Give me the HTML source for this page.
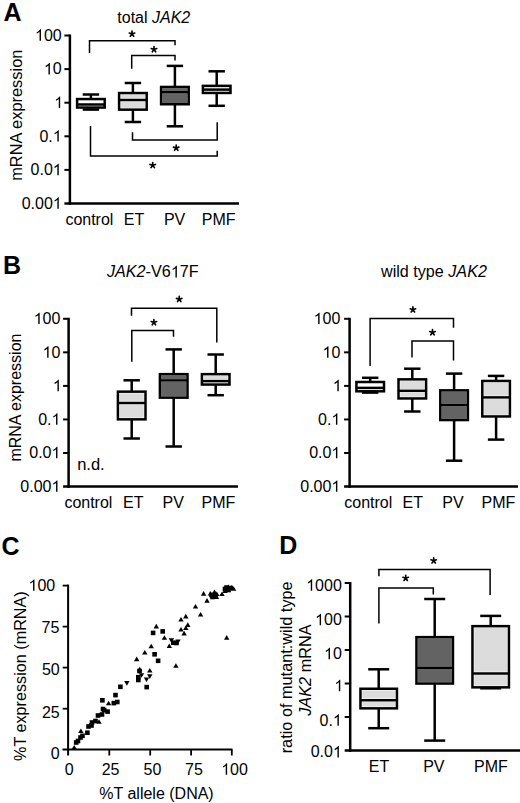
<!DOCTYPE html>
<html><head><meta charset="utf-8"><style>
html,body{margin:0;padding:0;background:#fff;}
svg{display:block;}
text{font-family:"Liberation Sans", sans-serif;fill:#000;}
</style></head><body>
<svg width="520" height="803" viewBox="0 0 520 803" font-size="16">
<rect width="520" height="803" fill="#fff"/>
<text x="3.50" y="21.00" font-size="25" font-weight="bold">A</text>
<text x="117.30" y="22.80">total <tspan font-style="italic">JAK2</tspan></text>
<line x1="69.90" y1="34.50" x2="69.90" y2="204.80" stroke="#000" stroke-width="2.5" stroke-linecap="butt"/>
<line x1="64.40" y1="35.50" x2="69.90" y2="35.50" stroke="#000" stroke-width="2.0" stroke-linecap="butt"/>
<line x1="64.40" y1="69.10" x2="69.90" y2="69.10" stroke="#000" stroke-width="2.0" stroke-linecap="butt"/>
<line x1="64.40" y1="102.70" x2="69.90" y2="102.70" stroke="#000" stroke-width="2.0" stroke-linecap="butt"/>
<line x1="64.40" y1="136.30" x2="69.90" y2="136.30" stroke="#000" stroke-width="2.0" stroke-linecap="butt"/>
<line x1="64.40" y1="169.90" x2="69.90" y2="169.90" stroke="#000" stroke-width="2.0" stroke-linecap="butt"/>
<line x1="64.40" y1="203.50" x2="239.00" y2="203.50" stroke="#000" stroke-width="2.5" stroke-linecap="butt"/>
<text x="35.01" y="40.80"> 00</text>
<path d="M763 0L583 0L583 1147C540 1106 483 1064 413 1023C343 982 280 951 223 930L223 1104C301 1141 386 1193 478 1260C570 1327 634 1396 670 1466L763 1466Z" transform="translate(35.01 40.80) scale(0.00781 -0.00781)"/>
<text x="43.91" y="74.40"> 0</text>
<path d="M763 0L583 0L583 1147C540 1106 483 1064 413 1023C343 982 280 951 223 930L223 1104C301 1141 386 1193 478 1260C570 1327 634 1396 670 1466L763 1466Z" transform="translate(43.91 74.40) scale(0.00781 -0.00781)"/>
<text x="54.20" y="108.00"> </text>
<path d="M763 0L583 0L583 1147C540 1106 483 1064 413 1023C343 982 280 951 223 930L223 1104C301 1141 386 1193 478 1260C570 1327 634 1396 670 1466L763 1466Z" transform="translate(54.20 108.00) scale(0.00781 -0.00781)"/>
<text x="39.46" y="141.60">0. </text>
<path d="M763 0L583 0L583 1147C540 1106 483 1064 413 1023C343 982 280 951 223 930L223 1104C301 1141 386 1193 478 1260C570 1327 634 1396 670 1466L763 1466Z" transform="translate(52.80 141.60) scale(0.00781 -0.00781)"/>
<text x="30.56" y="175.20">0.0 </text>
<path d="M763 0L583 0L583 1147C540 1106 483 1064 413 1023C343 982 280 951 223 930L223 1104C301 1141 386 1193 478 1260C570 1327 634 1396 670 1466L763 1466Z" transform="translate(52.80 175.20) scale(0.00781 -0.00781)"/>
<text x="21.67" y="208.80">0.00 </text>
<path d="M763 0L583 0L583 1147C540 1106 483 1064 413 1023C343 982 280 951 223 930L223 1104C301 1141 386 1193 478 1260C570 1327 634 1396 670 1466L763 1466Z" transform="translate(52.80 208.80) scale(0.00781 -0.00781)"/>
<text x="22.20" y="180.80" font-size="16.4" transform="rotate(-90 22.2 180.8)">mRNA expression</text>
<line x1="90.90" y1="94.50" x2="90.90" y2="99.05" stroke="#000" stroke-width="2.5" stroke-linecap="butt"/>
<line x1="90.90" y1="107.55" x2="90.90" y2="109.60" stroke="#000" stroke-width="2.5" stroke-linecap="butt"/>
<line x1="82.70" y1="94.50" x2="99.10" y2="94.50" stroke="#000" stroke-width="2.5" stroke-linecap="butt"/>
<line x1="82.70" y1="109.60" x2="99.10" y2="109.60" stroke="#000" stroke-width="2.5" stroke-linecap="butt"/>
<rect x="77.10" y="99.05" width="27.60" height="8.50" fill="#fff"/>
<rect x="77.10" y="99.05" width="27.60" height="8.50" fill="none" stroke="#000" stroke-width="2.5"/>
<line x1="77.10" y1="104.50" x2="104.70" y2="104.50" stroke="#000" stroke-width="2.5" stroke-linecap="butt"/>
<line x1="132.90" y1="83.00" x2="132.90" y2="93.05" stroke="#000" stroke-width="2.5" stroke-linecap="butt"/>
<line x1="132.90" y1="109.65" x2="132.90" y2="122.00" stroke="#000" stroke-width="2.5" stroke-linecap="butt"/>
<line x1="124.70" y1="83.00" x2="141.10" y2="83.00" stroke="#000" stroke-width="2.5" stroke-linecap="butt"/>
<line x1="124.70" y1="122.00" x2="141.10" y2="122.00" stroke="#000" stroke-width="2.5" stroke-linecap="butt"/>
<rect x="119.10" y="93.05" width="27.60" height="16.60" fill="#fff"/>
<rect x="120.85" y="94.80" width="24.10" height="3.45" fill="#dcdcdc"/>
<rect x="120.85" y="101.75" width="24.10" height="6.15" fill="#dcdcdc"/>
<rect x="119.10" y="93.05" width="27.60" height="16.60" fill="none" stroke="#000" stroke-width="2.5"/>
<line x1="119.10" y1="100.00" x2="146.70" y2="100.00" stroke="#000" stroke-width="2.5" stroke-linecap="butt"/>
<line x1="174.90" y1="65.90" x2="174.90" y2="86.95" stroke="#000" stroke-width="2.5" stroke-linecap="butt"/>
<line x1="174.90" y1="104.25" x2="174.90" y2="126.30" stroke="#000" stroke-width="2.5" stroke-linecap="butt"/>
<line x1="166.70" y1="65.90" x2="183.10" y2="65.90" stroke="#000" stroke-width="2.5" stroke-linecap="butt"/>
<line x1="166.70" y1="126.30" x2="183.10" y2="126.30" stroke="#000" stroke-width="2.5" stroke-linecap="butt"/>
<rect x="161.10" y="86.95" width="27.60" height="17.30" fill="#fff"/>
<rect x="162.35" y="88.20" width="25.10" height="2.75" fill="#636363"/>
<rect x="162.35" y="93.45" width="25.10" height="9.55" fill="#636363"/>
<rect x="161.10" y="86.95" width="27.60" height="17.30" fill="none" stroke="#000" stroke-width="2.5"/>
<line x1="161.10" y1="92.20" x2="188.70" y2="92.20" stroke="#000" stroke-width="2.5" stroke-linecap="butt"/>
<line x1="216.70" y1="71.30" x2="216.70" y2="85.85" stroke="#000" stroke-width="2.5" stroke-linecap="butt"/>
<line x1="216.70" y1="92.95" x2="216.70" y2="105.80" stroke="#000" stroke-width="2.5" stroke-linecap="butt"/>
<line x1="208.50" y1="71.30" x2="224.90" y2="71.30" stroke="#000" stroke-width="2.5" stroke-linecap="butt"/>
<line x1="208.50" y1="105.80" x2="224.90" y2="105.80" stroke="#000" stroke-width="2.5" stroke-linecap="butt"/>
<rect x="202.90" y="85.85" width="27.60" height="7.10" fill="#fff"/>
<rect x="204.65" y="87.60" width="24.10" height="0.25" fill="#dcdcdc"/>
<rect x="202.90" y="85.85" width="27.60" height="7.10" fill="none" stroke="#000" stroke-width="2.5"/>
<line x1="202.90" y1="89.60" x2="230.50" y2="89.60" stroke="#000" stroke-width="2.5" stroke-linecap="butt"/>
<text x="89.40" y="225.00" text-anchor="middle">control</text>
<text x="134.00" y="225.00" text-anchor="middle">ET</text>
<text x="174.60" y="225.00" text-anchor="middle">PV</text>
<text x="218.70" y="225.00" text-anchor="middle">PMF</text>
<path d="M89.5 52.9V40.7H175V45.2" stroke="#000" stroke-width="1.5" fill="none"/>
<path d="M131.7 68.8V55.5H175V60.6" stroke="#000" stroke-width="1.5" fill="none"/>
<path d="M132.5 132.2V140.0H217.2V122.3" stroke="#000" stroke-width="1.5" fill="none"/>
<path d="M90.5 126V156.0H217.2V150.8" stroke="#000" stroke-width="1.5" fill="none"/>
<path d="M132.00 33.92L132.00 31.07M132.00 33.92L134.71 33.04M132.00 33.92L129.29 33.04M132.00 33.92L133.68 36.23M132.00 33.92L130.32 36.23" stroke="#000" stroke-width="1.65" stroke-linecap="round" fill="none"/>
<path d="M154.00 49.48L154.00 46.62M154.00 49.48L156.71 48.59M154.00 49.48L151.29 48.59M154.00 49.48L155.68 51.78M154.00 49.48L152.32 51.78" stroke="#000" stroke-width="1.65" stroke-linecap="round" fill="none"/>
<path d="M176.20 148.03L176.20 145.18M176.20 148.03L178.91 147.14M176.20 148.03L173.49 147.14M176.20 148.03L177.88 150.33M176.20 148.03L174.52 150.33" stroke="#000" stroke-width="1.65" stroke-linecap="round" fill="none"/>
<path d="M152.70 165.33L152.70 162.48M152.70 165.33L155.41 164.44M152.70 165.33L149.99 164.44M152.70 165.33L154.38 167.63M152.70 165.33L151.02 167.63" stroke="#000" stroke-width="1.65" stroke-linecap="round" fill="none"/>
<text x="3.00" y="274.00" font-size="25" font-weight="bold">B</text>
<text x="106.90" y="277.40" font-size="16.2"><tspan font-style="italic">JAK2</tspan>-V6 7F</text>
<path d="M763 0L583 0L583 1147C540 1106 483 1064 413 1023C343 982 280 951 223 930L223 1104C301 1141 386 1193 478 1260C570 1327 634 1396 670 1466L763 1466Z" transform="translate(170.83 277.4) scale(0.00791 -0.00791)"/>
<line x1="68.60" y1="317.80" x2="68.60" y2="487.85" stroke="#000" stroke-width="2.5" stroke-linecap="butt"/>
<line x1="63.10" y1="318.80" x2="68.60" y2="318.80" stroke="#000" stroke-width="2.0" stroke-linecap="butt"/>
<line x1="63.10" y1="352.35" x2="68.60" y2="352.35" stroke="#000" stroke-width="2.0" stroke-linecap="butt"/>
<line x1="63.10" y1="385.90" x2="68.60" y2="385.90" stroke="#000" stroke-width="2.0" stroke-linecap="butt"/>
<line x1="63.10" y1="419.45" x2="68.60" y2="419.45" stroke="#000" stroke-width="2.0" stroke-linecap="butt"/>
<line x1="63.10" y1="453.00" x2="68.60" y2="453.00" stroke="#000" stroke-width="2.0" stroke-linecap="butt"/>
<line x1="63.10" y1="486.55" x2="238.00" y2="486.55" stroke="#000" stroke-width="2.5" stroke-linecap="butt"/>
<text x="33.71" y="324.10"> 00</text>
<path d="M763 0L583 0L583 1147C540 1106 483 1064 413 1023C343 982 280 951 223 930L223 1104C301 1141 386 1193 478 1260C570 1327 634 1396 670 1466L763 1466Z" transform="translate(33.71 324.10) scale(0.00781 -0.00781)"/>
<text x="42.61" y="357.65"> 0</text>
<path d="M763 0L583 0L583 1147C540 1106 483 1064 413 1023C343 982 280 951 223 930L223 1104C301 1141 386 1193 478 1260C570 1327 634 1396 670 1466L763 1466Z" transform="translate(42.61 357.65) scale(0.00781 -0.00781)"/>
<text x="52.90" y="391.20"> </text>
<path d="M763 0L583 0L583 1147C540 1106 483 1064 413 1023C343 982 280 951 223 930L223 1104C301 1141 386 1193 478 1260C570 1327 634 1396 670 1466L763 1466Z" transform="translate(52.90 391.20) scale(0.00781 -0.00781)"/>
<text x="38.16" y="424.75">0. </text>
<path d="M763 0L583 0L583 1147C540 1106 483 1064 413 1023C343 982 280 951 223 930L223 1104C301 1141 386 1193 478 1260C570 1327 634 1396 670 1466L763 1466Z" transform="translate(51.50 424.75) scale(0.00781 -0.00781)"/>
<text x="29.26" y="458.30">0.0 </text>
<path d="M763 0L583 0L583 1147C540 1106 483 1064 413 1023C343 982 280 951 223 930L223 1104C301 1141 386 1193 478 1260C570 1327 634 1396 670 1466L763 1466Z" transform="translate(51.50 458.30) scale(0.00781 -0.00781)"/>
<text x="20.37" y="491.85">0.00 </text>
<path d="M763 0L583 0L583 1147C540 1106 483 1064 413 1023C343 982 280 951 223 930L223 1104C301 1141 386 1193 478 1260C570 1327 634 1396 670 1466L763 1466Z" transform="translate(51.50 491.85) scale(0.00781 -0.00781)"/>
<text x="21.00" y="461.60" transform="rotate(-90 21.0 461.6)">mRNA expression</text>
<line x1="131.70" y1="380.30" x2="131.70" y2="391.65" stroke="#000" stroke-width="2.5" stroke-linecap="butt"/>
<line x1="131.70" y1="419.35" x2="131.70" y2="438.50" stroke="#000" stroke-width="2.5" stroke-linecap="butt"/>
<line x1="123.50" y1="380.30" x2="139.90" y2="380.30" stroke="#000" stroke-width="2.5" stroke-linecap="butt"/>
<line x1="123.50" y1="438.50" x2="139.90" y2="438.50" stroke="#000" stroke-width="2.5" stroke-linecap="butt"/>
<rect x="117.90" y="391.65" width="27.60" height="27.70" fill="#fff"/>
<rect x="119.65" y="393.40" width="24.10" height="7.85" fill="#dcdcdc"/>
<rect x="119.65" y="404.75" width="24.10" height="12.85" fill="#dcdcdc"/>
<rect x="117.90" y="391.65" width="27.60" height="27.70" fill="none" stroke="#000" stroke-width="2.5"/>
<line x1="117.90" y1="403.00" x2="145.50" y2="403.00" stroke="#000" stroke-width="2.5" stroke-linecap="butt"/>
<line x1="173.70" y1="349.40" x2="173.70" y2="374.15" stroke="#000" stroke-width="2.5" stroke-linecap="butt"/>
<line x1="173.70" y1="397.65" x2="173.70" y2="446.50" stroke="#000" stroke-width="2.5" stroke-linecap="butt"/>
<line x1="165.50" y1="349.40" x2="181.90" y2="349.40" stroke="#000" stroke-width="2.5" stroke-linecap="butt"/>
<line x1="165.50" y1="446.50" x2="181.90" y2="446.50" stroke="#000" stroke-width="2.5" stroke-linecap="butt"/>
<rect x="159.90" y="374.15" width="27.60" height="23.50" fill="#fff"/>
<rect x="161.15" y="375.40" width="25.10" height="3.75" fill="#636363"/>
<rect x="161.15" y="381.65" width="25.10" height="14.75" fill="#636363"/>
<rect x="159.90" y="374.15" width="27.60" height="23.50" fill="none" stroke="#000" stroke-width="2.5"/>
<line x1="159.90" y1="380.40" x2="187.50" y2="380.40" stroke="#000" stroke-width="2.5" stroke-linecap="butt"/>
<line x1="215.70" y1="354.50" x2="215.70" y2="374.15" stroke="#000" stroke-width="2.5" stroke-linecap="butt"/>
<line x1="215.70" y1="384.55" x2="215.70" y2="395.20" stroke="#000" stroke-width="2.5" stroke-linecap="butt"/>
<line x1="207.50" y1="354.50" x2="223.90" y2="354.50" stroke="#000" stroke-width="2.5" stroke-linecap="butt"/>
<line x1="207.50" y1="395.20" x2="223.90" y2="395.20" stroke="#000" stroke-width="2.5" stroke-linecap="butt"/>
<rect x="201.90" y="374.15" width="27.60" height="10.40" fill="#fff"/>
<rect x="203.65" y="375.90" width="24.10" height="3.45" fill="#dcdcdc"/>
<rect x="201.90" y="374.15" width="27.60" height="10.40" fill="none" stroke="#000" stroke-width="2.5"/>
<line x1="201.90" y1="381.10" x2="229.50" y2="381.10" stroke="#000" stroke-width="2.5" stroke-linecap="butt"/>
<text x="77.20" y="470.00" font-size="16.5">n.d.</text>
<text x="88.40" y="508.30" text-anchor="middle">control</text>
<text x="133.20" y="508.30" text-anchor="middle">ET</text>
<text x="173.20" y="508.30" text-anchor="middle">PV</text>
<text x="218.50" y="508.30" text-anchor="middle">PMF</text>
<path d="M131.5 315.7V308.3H216.8V342.5" stroke="#000" stroke-width="1.5" fill="none"/>
<path d="M131.8 361.8V330.6H173.5V336.8" stroke="#000" stroke-width="1.5" fill="none"/>
<path d="M179.20 299.27L179.20 296.42M179.20 299.27L181.91 298.39M179.20 299.27L176.49 298.39M179.20 299.27L180.88 301.58M179.20 299.27L177.52 301.58" stroke="#000" stroke-width="1.65" stroke-linecap="round" fill="none"/>
<path d="M153.90 322.47L153.90 319.62M153.90 322.47L156.61 321.59M153.90 322.47L151.19 321.59M153.90 322.47L155.58 324.78M153.90 322.47L152.22 324.78" stroke="#000" stroke-width="1.65" stroke-linecap="round" fill="none"/>
<text x="381.00" y="277.00" font-size="16.15">wild type <tspan font-style="italic">JAK2</tspan></text>
<line x1="349.60" y1="317.80" x2="349.60" y2="487.85" stroke="#000" stroke-width="2.5" stroke-linecap="butt"/>
<line x1="344.10" y1="318.80" x2="349.60" y2="318.80" stroke="#000" stroke-width="2.0" stroke-linecap="butt"/>
<line x1="344.10" y1="352.35" x2="349.60" y2="352.35" stroke="#000" stroke-width="2.0" stroke-linecap="butt"/>
<line x1="344.10" y1="385.90" x2="349.60" y2="385.90" stroke="#000" stroke-width="2.0" stroke-linecap="butt"/>
<line x1="344.10" y1="419.45" x2="349.60" y2="419.45" stroke="#000" stroke-width="2.0" stroke-linecap="butt"/>
<line x1="344.10" y1="453.00" x2="349.60" y2="453.00" stroke="#000" stroke-width="2.0" stroke-linecap="butt"/>
<line x1="344.10" y1="486.55" x2="518.00" y2="486.55" stroke="#000" stroke-width="2.5" stroke-linecap="butt"/>
<text x="313.61" y="324.10"> 00</text>
<path d="M763 0L583 0L583 1147C540 1106 483 1064 413 1023C343 982 280 951 223 930L223 1104C301 1141 386 1193 478 1260C570 1327 634 1396 670 1466L763 1466Z" transform="translate(313.61 324.10) scale(0.00781 -0.00781)"/>
<text x="322.51" y="357.65"> 0</text>
<path d="M763 0L583 0L583 1147C540 1106 483 1064 413 1023C343 982 280 951 223 930L223 1104C301 1141 386 1193 478 1260C570 1327 634 1396 670 1466L763 1466Z" transform="translate(322.51 357.65) scale(0.00781 -0.00781)"/>
<text x="332.80" y="391.20"> </text>
<path d="M763 0L583 0L583 1147C540 1106 483 1064 413 1023C343 982 280 951 223 930L223 1104C301 1141 386 1193 478 1260C570 1327 634 1396 670 1466L763 1466Z" transform="translate(332.80 391.20) scale(0.00781 -0.00781)"/>
<text x="318.06" y="424.75">0. </text>
<path d="M763 0L583 0L583 1147C540 1106 483 1064 413 1023C343 982 280 951 223 930L223 1104C301 1141 386 1193 478 1260C570 1327 634 1396 670 1466L763 1466Z" transform="translate(331.40 424.75) scale(0.00781 -0.00781)"/>
<text x="309.16" y="458.30">0.0 </text>
<path d="M763 0L583 0L583 1147C540 1106 483 1064 413 1023C343 982 280 951 223 930L223 1104C301 1141 386 1193 478 1260C570 1327 634 1396 670 1466L763 1466Z" transform="translate(331.40 458.30) scale(0.00781 -0.00781)"/>
<text x="300.27" y="491.85">0.00 </text>
<path d="M763 0L583 0L583 1147C540 1106 483 1064 413 1023C343 982 280 951 223 930L223 1104C301 1141 386 1193 478 1260C570 1327 634 1396 670 1466L763 1466Z" transform="translate(331.40 491.85) scale(0.00781 -0.00781)"/>
<line x1="370.20" y1="377.80" x2="370.20" y2="382.00" stroke="#000" stroke-width="2.5" stroke-linecap="butt"/>
<line x1="370.20" y1="391.30" x2="370.20" y2="392.60" stroke="#000" stroke-width="2.5" stroke-linecap="butt"/>
<line x1="362.00" y1="377.80" x2="378.40" y2="377.80" stroke="#000" stroke-width="2.5" stroke-linecap="butt"/>
<line x1="362.00" y1="392.60" x2="378.40" y2="392.60" stroke="#000" stroke-width="2.5" stroke-linecap="butt"/>
<rect x="356.40" y="382.00" width="27.60" height="9.30" fill="#fff"/>
<rect x="356.40" y="382.00" width="27.60" height="9.30" fill="none" stroke="#000" stroke-width="2.5"/>
<line x1="356.40" y1="387.90" x2="384.00" y2="387.90" stroke="#000" stroke-width="2.5" stroke-linecap="butt"/>
<line x1="412.30" y1="368.70" x2="412.30" y2="379.35" stroke="#000" stroke-width="2.5" stroke-linecap="butt"/>
<line x1="412.30" y1="398.45" x2="412.30" y2="411.50" stroke="#000" stroke-width="2.5" stroke-linecap="butt"/>
<line x1="404.10" y1="368.70" x2="420.50" y2="368.70" stroke="#000" stroke-width="2.5" stroke-linecap="butt"/>
<line x1="404.10" y1="411.50" x2="420.50" y2="411.50" stroke="#000" stroke-width="2.5" stroke-linecap="butt"/>
<rect x="398.50" y="379.35" width="27.60" height="19.10" fill="#fff"/>
<rect x="400.25" y="381.10" width="24.10" height="7.95" fill="#dcdcdc"/>
<rect x="400.25" y="392.55" width="24.10" height="4.15" fill="#dcdcdc"/>
<rect x="398.50" y="379.35" width="27.60" height="19.10" fill="none" stroke="#000" stroke-width="2.5"/>
<line x1="398.50" y1="390.80" x2="426.10" y2="390.80" stroke="#000" stroke-width="2.5" stroke-linecap="butt"/>
<line x1="454.10" y1="373.60" x2="454.10" y2="390.35" stroke="#000" stroke-width="2.5" stroke-linecap="butt"/>
<line x1="454.10" y1="420.05" x2="454.10" y2="460.70" stroke="#000" stroke-width="2.5" stroke-linecap="butt"/>
<line x1="445.90" y1="373.60" x2="462.30" y2="373.60" stroke="#000" stroke-width="2.5" stroke-linecap="butt"/>
<line x1="445.90" y1="460.70" x2="462.30" y2="460.70" stroke="#000" stroke-width="2.5" stroke-linecap="butt"/>
<rect x="440.30" y="390.35" width="27.60" height="29.70" fill="#fff"/>
<rect x="441.55" y="391.60" width="25.10" height="12.15" fill="#636363"/>
<rect x="441.55" y="406.25" width="25.10" height="12.55" fill="#636363"/>
<rect x="440.30" y="390.35" width="27.60" height="29.70" fill="none" stroke="#000" stroke-width="2.5"/>
<line x1="440.30" y1="405.00" x2="467.90" y2="405.00" stroke="#000" stroke-width="2.5" stroke-linecap="butt"/>
<line x1="496.10" y1="375.90" x2="496.10" y2="380.95" stroke="#000" stroke-width="2.5" stroke-linecap="butt"/>
<line x1="496.10" y1="416.45" x2="496.10" y2="439.60" stroke="#000" stroke-width="2.5" stroke-linecap="butt"/>
<line x1="487.90" y1="375.90" x2="504.30" y2="375.90" stroke="#000" stroke-width="2.5" stroke-linecap="butt"/>
<line x1="487.90" y1="439.60" x2="504.30" y2="439.60" stroke="#000" stroke-width="2.5" stroke-linecap="butt"/>
<rect x="482.30" y="380.95" width="27.60" height="35.50" fill="#fff"/>
<rect x="484.05" y="382.70" width="24.10" height="12.95" fill="#dcdcdc"/>
<rect x="484.05" y="399.15" width="24.10" height="15.55" fill="#dcdcdc"/>
<rect x="482.30" y="380.95" width="27.60" height="35.50" fill="none" stroke="#000" stroke-width="2.5"/>
<line x1="482.30" y1="397.40" x2="509.90" y2="397.40" stroke="#000" stroke-width="2.5" stroke-linecap="butt"/>
<text x="368.30" y="508.00" text-anchor="middle">control</text>
<text x="412.80" y="508.00" text-anchor="middle">ET</text>
<text x="453.00" y="508.00" text-anchor="middle">PV</text>
<text x="498.40" y="508.00" text-anchor="middle">PMF</text>
<path d="M370.1 365.9V318.6H453.5V327.8" stroke="#000" stroke-width="1.5" fill="none"/>
<path d="M412.0 357.4V341.0H453.5V360.6" stroke="#000" stroke-width="1.5" fill="none"/>
<path d="M412.90 309.67L412.90 306.82M412.90 309.67L415.61 308.79M412.90 309.67L410.19 308.79M412.90 309.67L414.58 311.98M412.90 309.67L411.22 311.98" stroke="#000" stroke-width="1.65" stroke-linecap="round" fill="none"/>
<path d="M432.50 332.47L432.50 329.62M432.50 332.47L435.21 331.59M432.50 332.47L429.79 331.59M432.50 332.47L434.18 334.78M432.50 332.47L430.82 334.78" stroke="#000" stroke-width="1.65" stroke-linecap="round" fill="none"/>
<text x="1.50" y="555.00" font-size="25" font-weight="bold">C</text>
<line x1="68.10" y1="584.60" x2="68.10" y2="755.50" stroke="#000" stroke-width="2.0" stroke-linecap="butt"/>
<line x1="62.70" y1="585.60" x2="68.10" y2="585.60" stroke="#000" stroke-width="1.8" stroke-linecap="butt"/>
<line x1="62.70" y1="626.60" x2="68.10" y2="626.60" stroke="#000" stroke-width="1.8" stroke-linecap="butt"/>
<line x1="62.70" y1="667.60" x2="68.10" y2="667.60" stroke="#000" stroke-width="1.8" stroke-linecap="butt"/>
<line x1="62.70" y1="708.70" x2="68.10" y2="708.70" stroke="#000" stroke-width="1.8" stroke-linecap="butt"/>
<line x1="62.50" y1="749.60" x2="232.50" y2="749.60" stroke="#000" stroke-width="2.0" stroke-linecap="butt"/>
<line x1="109.30" y1="749.60" x2="109.30" y2="755.50" stroke="#000" stroke-width="1.8" stroke-linecap="butt"/>
<line x1="150.20" y1="749.60" x2="150.20" y2="755.50" stroke="#000" stroke-width="1.8" stroke-linecap="butt"/>
<line x1="191.10" y1="749.60" x2="191.10" y2="755.50" stroke="#000" stroke-width="1.8" stroke-linecap="butt"/>
<line x1="231.80" y1="749.60" x2="231.80" y2="755.50" stroke="#000" stroke-width="1.8" stroke-linecap="butt"/>
<text x="28.51" y="590.83"> 00</text>
<path d="M763 0L583 0L583 1147C540 1106 483 1064 413 1023C343 982 280 951 223 930L223 1104C301 1141 386 1193 478 1260C570 1327 634 1396 670 1466L763 1466Z" transform="translate(28.51 590.83) scale(0.00781 -0.00781)"/>
<text x="41.51" y="632.73">75</text>
<text x="41.91" y="675.43">50</text>
<text x="41.91" y="717.53">25</text>
<text x="50.70" y="759.43">0</text>
<text x="64.75" y="774.80">0</text>
<text x="101.70" y="774.80">25</text>
<text x="143.50" y="774.80">50</text>
<text x="185.10" y="774.80">75</text>
<text x="221.16" y="774.80"> 00</text>
<path d="M763 0L583 0L583 1147C540 1106 483 1064 413 1023C343 982 280 951 223 930L223 1104C301 1141 386 1193 478 1260C570 1327 634 1396 670 1466L763 1466Z" transform="translate(221.16 774.80) scale(0.00781 -0.00781)"/>
<text x="156.50" y="799.20" text-anchor="middle">%T allele (DNA)</text>
<text x="26.20" y="761.00" font-size="16.2" transform="rotate(-90 26.2 761.0)">%T expression (mRNA)</text>
<path d="M222.0 591.4L224.7 596.0L219.3 596.0Z"/>
<rect x="222.7" y="586.7" width="4.6" height="4.6"/>
<rect x="226.2" y="587.7" width="4.6" height="4.6"/>
<path d="M228.3 584.6L231.0 589.2L225.6 589.2Z"/>
<path d="M231.8 585.0L234.5 589.6L229.1 589.6Z"/>
<path d="M233.6 586.2L236.3 590.8L230.9 590.8Z"/>
<path d="M203.6 591.1L206.3 595.7L200.9 595.7Z"/>
<path d="M210.4 591.0L213.1 595.6L207.7 595.6Z"/>
<path d="M216.8 591.4L219.5 596.0L214.1 596.0Z"/>
<path d="M213.5 593.9L216.2 598.5L210.8 598.5Z"/>
<rect x="210.2" y="594.7" width="4.6" height="4.6"/>
<path d="M216.5 594.4L219.2 599.0L213.8 599.0Z"/>
<path d="M207.0 598.1L209.7 602.7L204.3 602.7Z"/>
<path d="M195.5 604.0L198.2 608.6L192.8 608.6Z"/>
<path d="M200.6 612.0L203.3 616.6L197.9 616.6Z"/>
<path d="M185.8 613.8L188.5 618.4L183.1 618.4Z"/>
<path d="M181.0 617.0L183.7 621.6L178.3 621.6Z"/>
<path d="M187.8 622.3L190.5 626.9L185.1 626.9Z"/>
<path d="M185.8 625.4L188.5 630.0L183.1 630.0Z"/>
<path d="M181.0 627.0L183.7 631.6L178.3 631.6Z"/>
<path d="M184.1 630.8L186.8 635.4L181.4 635.4Z"/>
<path d="M226.7 635.1L229.4 639.7L224.0 639.7Z"/>
<path d="M156.3 623.8L159.0 628.4L153.6 628.4Z"/>
<rect x="150.8" y="630.6" width="4.6" height="4.6"/>
<rect x="160.4" y="629.1" width="4.6" height="4.6"/>
<path d="M164.4 635.2L167.1 639.8L161.7 639.8Z"/>
<path d="M171.4 642.9L174.1 638.3L168.7 638.3Z"/>
<rect x="171.0" y="640.4" width="4.6" height="4.6"/>
<rect x="174.2" y="640.7" width="4.6" height="4.6"/>
<path d="M178.0 644.1L180.7 639.5L175.3 639.5Z"/>
<path d="M169.3 643.5L172.0 648.1L166.6 648.1Z"/>
<path d="M151.2 643.7L153.9 648.3L148.5 648.3Z"/>
<path d="M144.8 650.0L147.5 654.6L142.1 654.6Z"/>
<rect x="152.3" y="652.0" width="4.6" height="4.6"/>
<rect x="155.8" y="658.5" width="4.6" height="4.6"/>
<path d="M136.7 656.6L139.4 661.2L134.0 661.2Z"/>
<path d="M175.9 663.2L178.6 667.8L173.2 667.8Z"/>
<path d="M139.7 666.7L142.4 671.3L137.0 671.3Z"/>
<rect x="137.2" y="668.7" width="4.6" height="4.6"/>
<rect x="136.0" y="674.9" width="4.6" height="4.6"/>
<rect x="136.0" y="677.7" width="4.6" height="4.6"/>
<path d="M141.5 677.8L144.2 673.2L138.8 673.2Z"/>
<path d="M146.5 682.1L149.2 677.5L143.8 677.5Z"/>
<path d="M149.8 667.9L152.5 672.5L147.1 672.5Z"/>
<path d="M149.8 678.9L152.5 674.3L147.1 674.3Z"/>
<rect x="144.4" y="684.8" width="4.6" height="4.6"/>
<path d="M126.9 685.7L129.6 681.1L124.2 681.1Z"/>
<rect x="118.1" y="684.5" width="4.6" height="4.6"/>
<rect x="113.2" y="692.8" width="4.6" height="4.6"/>
<rect x="100.1" y="698.0" width="4.6" height="4.6"/>
<path d="M108.6 700.7L111.3 705.3L105.9 705.3Z"/>
<rect x="111.5" y="700.8" width="4.6" height="4.6"/>
<rect x="115.0" y="699.7" width="4.6" height="4.6"/>
<rect x="101.9" y="707.9" width="4.6" height="4.6"/>
<rect x="105.3" y="709.3" width="4.6" height="4.6"/>
<rect x="100.7" y="706.7" width="4.6" height="4.6"/>
<rect x="95.7" y="713.2" width="4.6" height="4.6"/>
<rect x="99.7" y="712.2" width="4.6" height="4.6"/>
<path d="M99.0 719.2L101.7 723.8L96.3 723.8Z"/>
<rect x="89.7" y="720.2" width="4.6" height="4.6"/>
<rect x="93.2" y="718.7" width="4.6" height="4.6"/>
<rect x="86.2" y="724.2" width="4.6" height="4.6"/>
<rect x="89.2" y="723.2" width="4.6" height="4.6"/>
<path d="M80.9 728.4L83.6 733.0L78.2 733.0Z"/>
<rect x="85.1" y="730.4" width="4.6" height="4.6"/>
<rect x="78.2" y="735.2" width="4.6" height="4.6"/>
<rect x="80.2" y="733.5" width="4.6" height="4.6"/>
<rect x="73.9" y="740.2" width="4.6" height="4.6"/>
<rect x="75.7" y="738.7" width="4.6" height="4.6"/>
<path d="M74.2 744.9L76.9 749.5L71.5 749.5Z"/>
<rect x="209.2" y="592.7" width="4.6" height="4.6"/>
<path d="M214.5 589.4L217.2 594.0L211.8 594.0Z"/>
<rect x="213.2" y="593.2" width="4.6" height="4.6"/>
<rect x="224.2" y="585.2" width="4.6" height="4.6"/>
<rect x="228.2" y="585.7" width="4.6" height="4.6"/>
<path d="M225.0 588.4L227.7 593.0L222.3 593.0Z"/>
<text x="279.30" y="554.00" font-size="25" font-weight="bold">D</text>
<line x1="350.20" y1="582.00" x2="350.20" y2="751.80" stroke="#000" stroke-width="2.5" stroke-linecap="butt"/>
<line x1="344.70" y1="583.00" x2="350.20" y2="583.00" stroke="#000" stroke-width="2.0" stroke-linecap="butt"/>
<line x1="344.70" y1="616.50" x2="350.20" y2="616.50" stroke="#000" stroke-width="2.0" stroke-linecap="butt"/>
<line x1="344.70" y1="650.00" x2="350.20" y2="650.00" stroke="#000" stroke-width="2.0" stroke-linecap="butt"/>
<line x1="344.70" y1="683.50" x2="350.20" y2="683.50" stroke="#000" stroke-width="2.0" stroke-linecap="butt"/>
<line x1="344.70" y1="717.00" x2="350.20" y2="717.00" stroke="#000" stroke-width="2.0" stroke-linecap="butt"/>
<line x1="344.70" y1="750.50" x2="520.00" y2="750.50" stroke="#000" stroke-width="2.5" stroke-linecap="butt"/>
<text x="306.22" y="590.70"> 000</text>
<path d="M763 0L583 0L583 1147C540 1106 483 1064 413 1023C343 982 280 951 223 930L223 1104C301 1141 386 1193 478 1260C570 1327 634 1396 670 1466L763 1466Z" transform="translate(306.22 590.70) scale(0.00781 -0.00781)"/>
<text x="315.11" y="625.20"> 00</text>
<path d="M763 0L583 0L583 1147C540 1106 483 1064 413 1023C343 982 280 951 223 930L223 1104C301 1141 386 1193 478 1260C570 1327 634 1396 670 1466L763 1466Z" transform="translate(315.11 625.20) scale(0.00781 -0.00781)"/>
<text x="324.01" y="659.30"> 0</text>
<path d="M763 0L583 0L583 1147C540 1106 483 1064 413 1023C343 982 280 951 223 930L223 1104C301 1141 386 1193 478 1260C570 1327 634 1396 670 1466L763 1466Z" transform="translate(324.01 659.30) scale(0.00781 -0.00781)"/>
<text x="334.30" y="691.30"> </text>
<path d="M763 0L583 0L583 1147C540 1106 483 1064 413 1023C343 982 280 951 223 930L223 1104C301 1141 386 1193 478 1260C570 1327 634 1396 670 1466L763 1466Z" transform="translate(334.30 691.30) scale(0.00781 -0.00781)"/>
<text x="319.56" y="725.70">0. </text>
<path d="M763 0L583 0L583 1147C540 1106 483 1064 413 1023C343 982 280 951 223 930L223 1104C301 1141 386 1193 478 1260C570 1327 634 1396 670 1466L763 1466Z" transform="translate(332.90 725.70) scale(0.00781 -0.00781)"/>
<text x="310.66" y="757.40">0.0 </text>
<path d="M763 0L583 0L583 1147C540 1106 483 1064 413 1023C343 982 280 951 223 930L223 1104C301 1141 386 1193 478 1260C570 1327 634 1396 670 1466L763 1466Z" transform="translate(332.90 757.40) scale(0.00781 -0.00781)"/>
<line x1="378.70" y1="669.30" x2="378.70" y2="688.75" stroke="#000" stroke-width="2.5" stroke-linecap="butt"/>
<line x1="378.70" y1="708.35" x2="378.70" y2="728.20" stroke="#000" stroke-width="2.5" stroke-linecap="butt"/>
<line x1="368.20" y1="669.30" x2="389.20" y2="669.30" stroke="#000" stroke-width="2.5" stroke-linecap="butt"/>
<line x1="368.20" y1="728.20" x2="389.20" y2="728.20" stroke="#000" stroke-width="2.5" stroke-linecap="butt"/>
<rect x="360.45" y="688.75" width="36.50" height="19.60" fill="#fff"/>
<rect x="362.20" y="690.50" width="33.00" height="7.95" fill="#dcdcdc"/>
<rect x="362.20" y="701.95" width="33.00" height="4.65" fill="#dcdcdc"/>
<rect x="360.45" y="688.75" width="36.50" height="19.60" fill="none" stroke="#000" stroke-width="2.5"/>
<line x1="360.45" y1="700.20" x2="396.95" y2="700.20" stroke="#000" stroke-width="2.5" stroke-linecap="butt"/>
<line x1="434.70" y1="599.00" x2="434.70" y2="637.15" stroke="#000" stroke-width="2.5" stroke-linecap="butt"/>
<line x1="434.70" y1="683.55" x2="434.70" y2="740.60" stroke="#000" stroke-width="2.5" stroke-linecap="butt"/>
<line x1="424.20" y1="599.00" x2="445.20" y2="599.00" stroke="#000" stroke-width="2.5" stroke-linecap="butt"/>
<line x1="424.20" y1="740.60" x2="445.20" y2="740.60" stroke="#000" stroke-width="2.5" stroke-linecap="butt"/>
<rect x="416.45" y="637.15" width="36.50" height="46.40" fill="#fff"/>
<rect x="417.70" y="638.40" width="34.00" height="28.05" fill="#636363"/>
<rect x="417.70" y="668.95" width="34.00" height="13.35" fill="#636363"/>
<rect x="416.45" y="637.15" width="36.50" height="46.40" fill="none" stroke="#000" stroke-width="2.5"/>
<line x1="416.45" y1="667.70" x2="452.95" y2="667.70" stroke="#000" stroke-width="2.5" stroke-linecap="butt"/>
<line x1="490.70" y1="615.90" x2="490.70" y2="626.15" stroke="#000" stroke-width="2.5" stroke-linecap="butt"/>
<line x1="490.70" y1="687.35" x2="490.70" y2="688.30" stroke="#000" stroke-width="2.5" stroke-linecap="butt"/>
<line x1="480.20" y1="615.90" x2="501.20" y2="615.90" stroke="#000" stroke-width="2.5" stroke-linecap="butt"/>
<line x1="480.20" y1="688.30" x2="501.20" y2="688.30" stroke="#000" stroke-width="2.5" stroke-linecap="butt"/>
<rect x="472.45" y="626.15" width="36.50" height="61.20" fill="#fff"/>
<rect x="474.20" y="627.90" width="33.00" height="43.75" fill="#dcdcdc"/>
<rect x="474.20" y="675.15" width="33.00" height="10.45" fill="#dcdcdc"/>
<rect x="472.45" y="626.15" width="36.50" height="61.20" fill="none" stroke="#000" stroke-width="2.5"/>
<line x1="472.45" y1="673.40" x2="508.95" y2="673.40" stroke="#000" stroke-width="2.5" stroke-linecap="butt"/>
<text x="379.00" y="771.50" text-anchor="middle">ET</text>
<text x="433.80" y="771.50" text-anchor="middle">PV</text>
<text x="491.00" y="771.50" text-anchor="middle">PMF</text>
<path d="M378.9 576.3V569.6H490.1V595" stroke="#000" stroke-width="1.5" fill="none"/>
<path d="M378.9 623.6V587.9H433.3V594.5" stroke="#000" stroke-width="1.5" fill="none"/>
<path d="M433.70 560.67L433.70 557.82M433.70 560.67L436.41 559.79M433.70 560.67L430.99 559.79M433.70 560.67L435.38 562.98M433.70 560.67L432.02 562.98" stroke="#000" stroke-width="1.65" stroke-linecap="round" fill="none"/>
<path d="M405.70 578.17L405.70 575.32M405.70 578.17L408.41 577.29M405.70 578.17L402.99 577.29M405.70 578.17L407.38 580.48M405.70 578.17L404.02 580.48" stroke="#000" stroke-width="1.65" stroke-linecap="round" fill="none"/>
<text x="292.20" y="753.30" font-size="16.3" transform="rotate(-90 292.2 753.3)">ratio of mutant:wild type</text>
<text x="310.70" y="715.80" font-size="16.3" transform="rotate(-90 310.7 715.8)"><tspan font-style="italic">JAK2</tspan> mRNA</text>
</svg>
</body></html>
